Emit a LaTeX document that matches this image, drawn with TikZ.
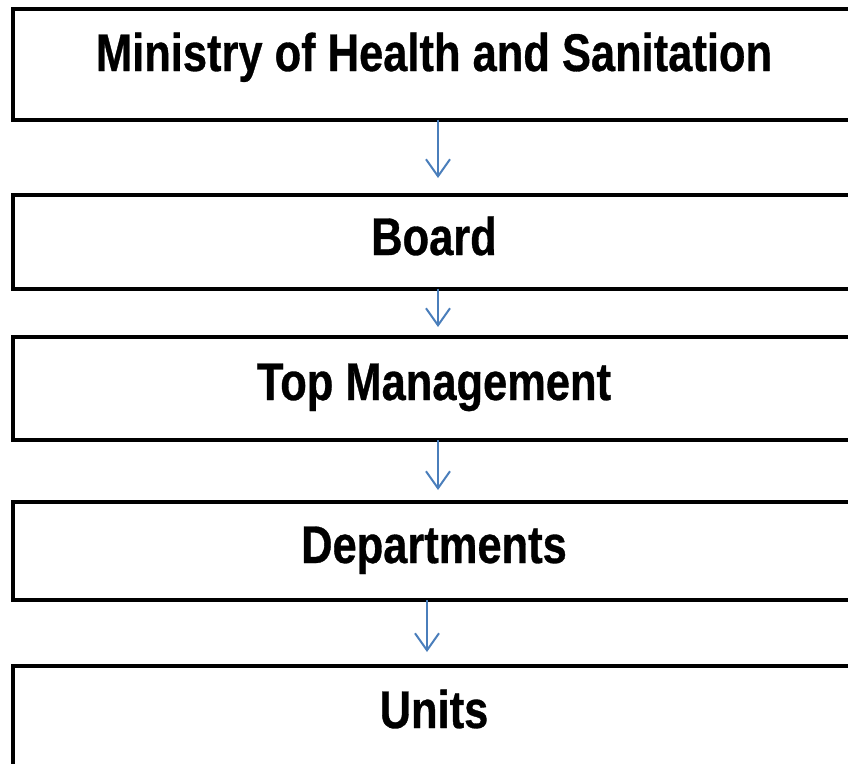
\documentclass[tikz,border=0pt]{standalone}
\usepackage{fontspec}
\setmainfont[FakeStretch=0.82,FakeBold=0.6]{Liberation Sans}
\usetikzlibrary{arrows.meta}
\definecolor{arrowblue}{HTML}{4A7EBB}
\begin{document}
\begin{tikzpicture}[x=1pt,y=1pt,
    level/.style 2 args={draw, line width=4pt, inner sep=0pt, outer sep=0pt,
      anchor=north, minimum width=842pt, text height=#1, text depth=#2,
      font=\fontsize{53}{60}\selectfont\bfseries},
    flow/.style={draw=arrowblue, line width=2pt,
      -{Straight Barb[length=17pt,width=24pt,line width=2pt]}}]
    \useasboundingbox (0,0) rectangle (848,-763); \clip (0,0) rectangle (848,-763);
    \node[level={62.5pt}{48.5pt}] (ministry) at (434,-8.5) {Ministry of Health and Sanitation};
    \node[level={60pt}{33.5pt}] (board) at (434,-195) {Board};
    \node[level={63pt}{40pt}] (topmgmt) at (434,-337) {Top Management};
    \node[level={61pt}{37pt}] (depts) at (434,-502) {Departments};
    \node[level={62pt}{60pt}] (units) at (434,-666) {Units};
    \coordinate (mid) at (438,0); \coordinate (low) at (427,0);
    \draw[flow, shorten >=17pt] (ministry.south -| mid) -- (board.north -| mid);
    \draw[flow, shorten >=10pt] (board.south -| mid) -- (topmgmt.north -| mid);
    \draw[flow, shorten >=12pt] (topmgmt.south -| mid) -- (depts.north -| mid);
    \draw[flow, shorten >=14pt] (depts.south -| low) -- (units.north -| low);
  \end{tikzpicture}
\end{document}
